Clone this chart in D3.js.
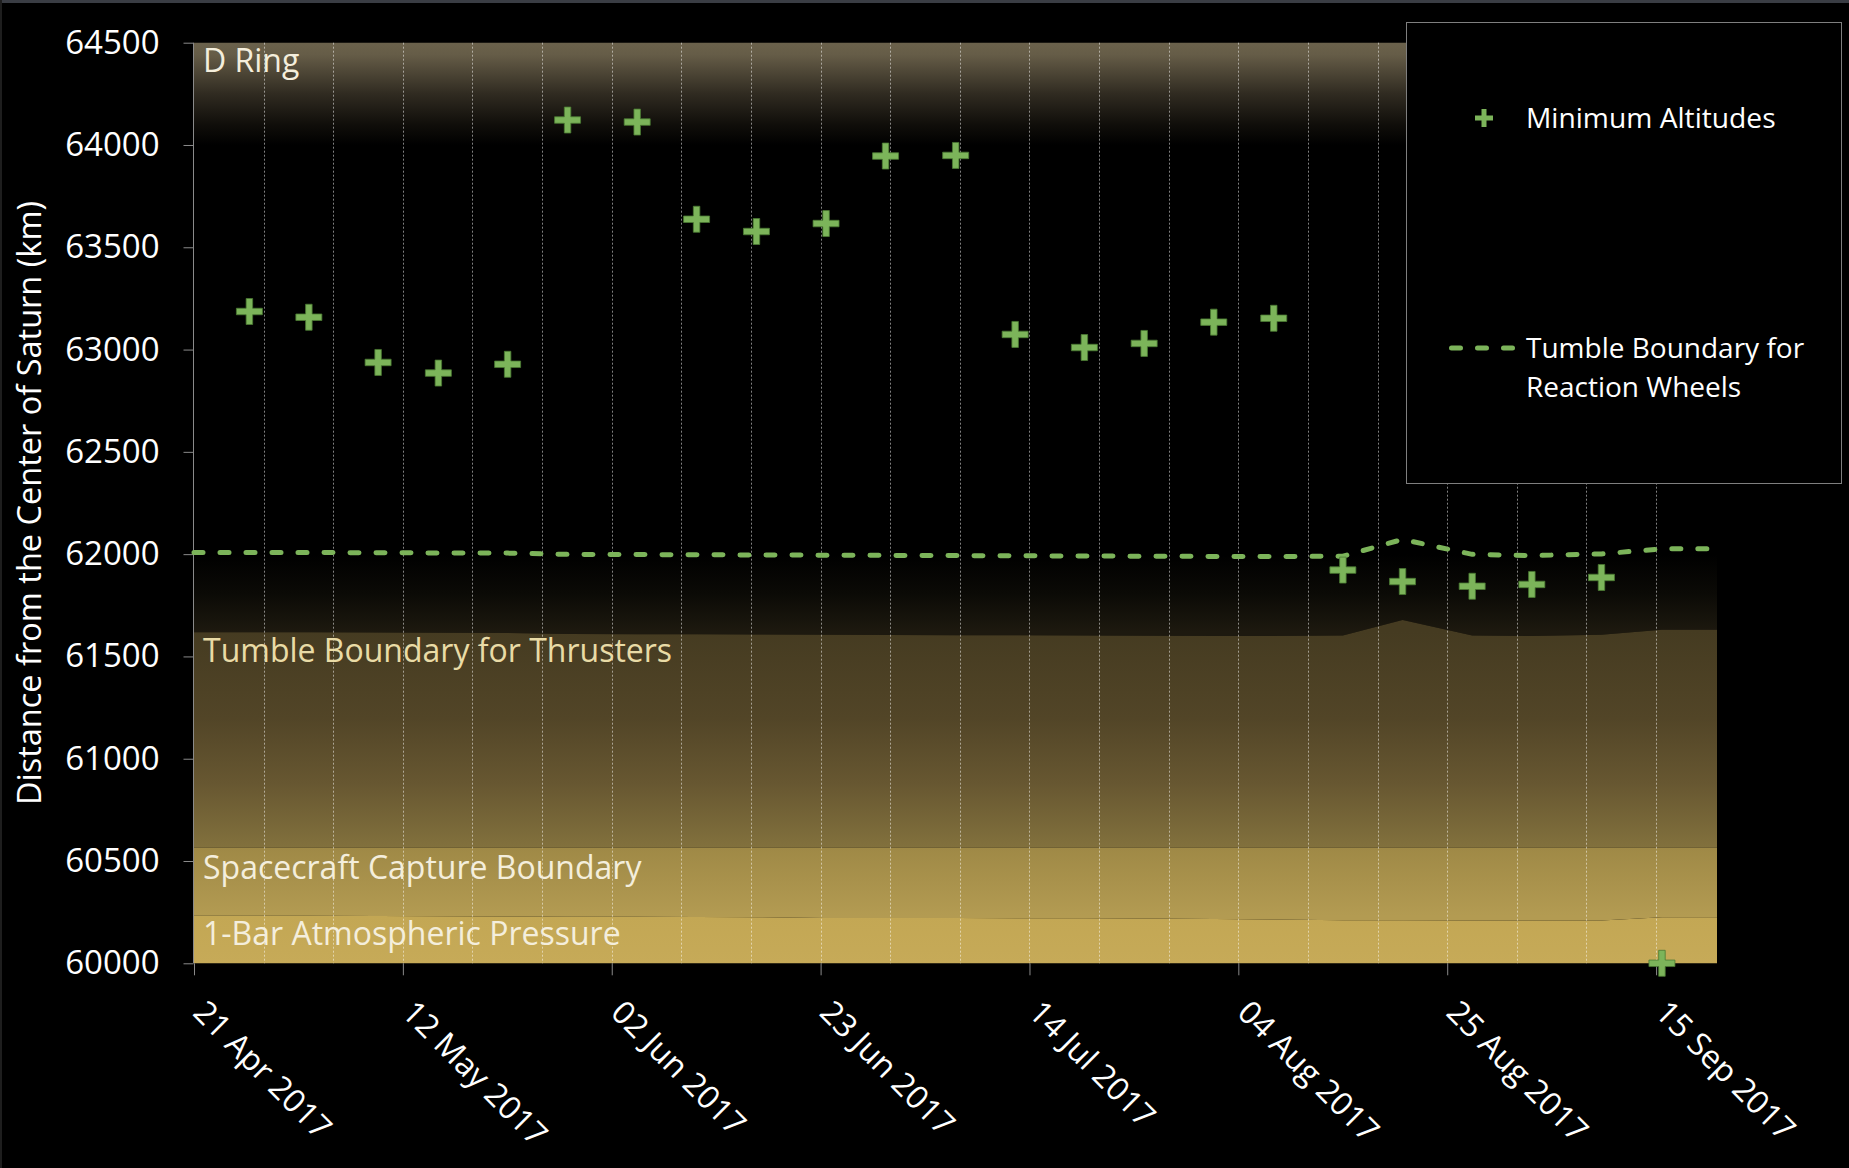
<!DOCTYPE html>
<html><head><meta charset="utf-8">
<script src="https://cdn.jsdelivr.net/npm/d3@7"></script>
<style>
html,body{margin:0;padding:0;background:#000;overflow:hidden}
svg{display:block}
text{font-family:"Open Sans",sans-serif}
</style></head><body>
<svg id="chart" width="1849" height="1168"></svg>
<script>
// ---------- DATA ----------
const periapsisDates = ["2017-04-26T13:40","2017-05-02T13:10","2017-05-09T12:15","2017-05-15T13:40","2017-05-22T12:45","2017-05-28T13:25","2017-06-04T13:25","2017-06-10T12:45","2017-06-16T13:10","2017-06-23T13:10","2017-06-29T12:45","2017-07-06T13:55","2017-07-12T13:25","2017-07-19T12:30","2017-07-25T12:45","2017-08-01T12:45","2017-08-07T13:25","2017-08-14T12:15","2017-08-20T12:15","2017-08-27T12:15","2017-09-02T12:15","2017-09-09T12:15","2017-09-15T14:10"];
const minAltitudes = [63186,63158,62937,62885,62928,64122,64112,63637,63577,63616,63946,63949,63074,63010,63030,63134,63153,61922,61866,61843,61852,61886,60000];

const boundaryDates = ["2017-04-21T00:00","2017-04-26T13:40","2017-05-02T13:10","2017-05-09T12:15","2017-05-15T13:40","2017-05-22T12:45","2017-05-28T13:25","2017-06-04T13:25","2017-06-10T12:45","2017-06-16T13:10","2017-06-23T13:10","2017-06-29T12:45","2017-07-06T13:55","2017-07-12T13:25","2017-07-19T12:30","2017-07-25T12:45","2017-08-01T12:45","2017-08-07T13:25","2017-08-14T12:15","2017-08-20T12:15","2017-08-27T12:15","2017-09-02T12:15","2017-09-09T12:15","2017-09-15T14:10","2017-09-21T03:00"];
const reactionWheelBoundary = [62008,62008,62008,62007,62006,62005,61999,61998,61997,61996,61995,61994,61993,61992,61991,61990,61989,61988,61990,62072,61999,61993,62001,62026,62026];
const thrusterBoundary      = [61618,61618,61618,61617,61616,61615,61610,61609,61608,61607,61606,61605,61604,61603,61602,61601,61600,61600,61602,61678,61602,61600,61606,61630,61630];
const captureBoundary       = [60565,60565,60565,60565,60565,60565,60565,60565,60565,60565,60565,60565,60565,60565,60565,60565,60565,60565,60565,60565,60565,60565,60565,60565,60565];
const oneBarPressure        = [60233,60233,60232,60231,60230,60229,60228,60227,60226,60225,60222,60221,60221,60220,60220,60219,60217,60214,60211,60210,60209,60209,60209,60225,60225];
const dRingBand = [64000, 64500];

const xTickDates = ["2017-04-21","2017-05-12","2017-06-02","2017-06-23","2017-07-14","2017-08-04","2017-08-25","2017-09-15"];
const yTicks = [60000,60500,61000,61500,62000,62500,63000,63500,64000,64500];
const xDomain = ["2017-04-21T00:00","2017-09-21T03:00"];
const yDomain = [60000, 64500];

const bandLabels = [
  {text:"D Ring", value:64500, cls:"light"},
  {text:"Tumble Boundary for Thrusters", value:61618, cls:"yellow"},
  {text:"Spacecraft Capture Boundary", value:60565, cls:"light"},
  {text:"1-Bar Atmospheric Pressure", value:60233, cls:"light"}
];
const legendItems = ["Minimum Altitudes", ["Tumble Boundary for","Reaction Wheels"]];
const yTitle = "Distance from the Center of Saturn (km)";

// ---------- SETUP ----------
const parseT = d3.timeParse("%Y-%m-%dT%H:%M");
const parseD = d3.timeParse("%Y-%m-%d");
const svg = d3.select("#chart");
const W = 1849, H = 1168;
const plot = {left:194, right:1717, top:42.7, bottom:963.3};

const x = d3.scaleTime().domain(xDomain.map(parseT)).range([plot.left, plot.right]);
const y = d3.scaleLinear().domain(yDomain).range([plot.bottom, plot.top]);

svg.append("rect").attr("width",W).attr("height",H).attr("fill","#000");
svg.append("rect").attr("width",W).attr("height",3).attr("fill","#3a3d44");
svg.append("rect").attr("width",2).attr("height",H).attr("fill","#1e1e1e");

const defs = svg.append("defs");
function grad(id, y1, y2, stops){
  const g = defs.append("linearGradient").attr("id",id)
    .attr("gradientUnits","userSpaceOnUse").attr("x1",0).attr("x2",0).attr("y1",y1).attr("y2",y2);
  stops.forEach(s=>g.append("stop").attr("offset",s[0]).attr("stop-color",s[1]));
}
grad("gDring", y(64500), y(64000), [[0,"#6b624c"],[0.12,"#655c47"],[0.5,"#302b21"],[0.8,"#100e0a"],[1,"#000"]]);
grad("gFade", y(62000), y(61620), [[0,"#000"],[0.5,"#0b0a06"],[1,"#1d190f"]]);
grad("gThr", y(61620), y(60565), [[0,"#453b21"],[0.4,"#524527"],[0.7,"#675731"],[1,"#82713d"]]);
grad("gCap", y(60565), y(60233), [[0,"#9f8946"],[1,"#b39b52"]]);
grad("gBar", y(60233), y(60000), [[0,"#c3a754"],[1,"#c6aa58"]]);

const bd = boundaryDates.map(parseT);
const rows = bd.map((d,i)=>({d, rw:reactionWheelBoundary[i], thr:thrusterBoundary[i], cap:captureBoundary[i], bar:oneBarPressure[i]}));

const bands = svg.append("g");
bands.append("path").datum(rows)
  .attr("d", d3.area().x(r=>x(r.d)).y0(()=>y(dRingBand[0])).y1(()=>y(dRingBand[1])))
  .attr("fill","url(#gDring)");
bands.append("path").datum(rows)
  .attr("d", d3.area().x(r=>x(r.d)).y0(r=>y(r.thr)).y1(r=>y(r.rw)))
  .attr("fill","url(#gFade)");
bands.append("path").datum(rows)
  .attr("d", d3.area().x(r=>x(r.d)).y0(r=>y(r.cap)).y1(r=>y(r.thr)))
  .attr("fill","url(#gThr)");
bands.append("path").datum(rows)
  .attr("d", d3.area().x(r=>x(r.d)).y0(r=>y(r.bar)).y1(r=>y(r.cap)))
  .attr("fill","url(#gCap)");
bands.append("path").datum(rows)
  .attr("d", d3.area().x(r=>x(r.d)).y0(()=>y(yDomain[0])).y1(r=>y(r.bar)))
  .attr("fill","url(#gBar)");

// weekly grid lines
const gridDates = d3.timeDay.range(parseD("2017-04-28"), parseD("2017-09-16"), 7);
svg.append("g").selectAll("line").data(gridDates).join("line")
  .attr("x1",d=>Math.round(x(d))+0.5).attr("x2",d=>Math.round(x(d))+0.5)
  .attr("y1",plot.top).attr("y2",plot.bottom)
  .attr("stroke","rgba(255,255,255,0.5)").attr("stroke-width",1).attr("stroke-dasharray","2,2");

// axes
const yAxis = svg.append("g").attr("transform",`translate(${plot.left-0.5},0)`)
  .call(d3.axisLeft(y).tickValues(yTicks).tickFormat(d3.format("d")).tickSize(10).tickPadding(24));
yAxis.select(".domain").attr("stroke","#8a8a8a").attr("d",`M0,${plot.top}V${plot.bottom}`);
yAxis.selectAll(".tick line").attr("stroke","#8a8a8a");
yAxis.selectAll(".tick text").attr("fill","#fff").attr("font-size",33).attr("font-family","Open Sans");

const xAxis = svg.append("g").attr("transform",`translate(0,${plot.bottom})`)
  .call(d3.axisBottom(x).tickValues(xTickDates.map(parseD)).tickFormat(d3.timeFormat("%d %b %Y")).tickSize(12));
xAxis.select(".domain").remove();
xAxis.selectAll(".tick line").attr("stroke","#8a8a8a");
xAxis.selectAll(".tick text").attr("fill","#fff").attr("font-size",32).attr("font-family","Open Sans")
  .attr("text-anchor","start").attr("dy",null).attr("y",null)
  .attr("transform","translate(-3,51) rotate(45)");

// y title
svg.append("text").attr("transform",`translate(41,${(plot.top+plot.bottom)/2}) rotate(-90)`)
  .attr("text-anchor","middle").attr("fill","#fff").attr("font-size",32.5).text(yTitle);

// band labels
const labelOffsets = {"D Ring":29, "Tumble Boundary for Thrusters":30, "Spacecraft Capture Boundary":31, "1-Bar Atmospheric Pressure":29};
svg.append("g").selectAll("text").data(bandLabels).join("text")
  .attr("x",203).attr("y",d=>y(d.value)+labelOffsets[d.text])
  .attr("fill",d=>d.cls==="yellow"?"#e9dba6":"#f4eedc")
  .attr("font-size",32).text(d=>d.text);

// dashed reaction wheel boundary
svg.append("path").datum(rows)
  .attr("d", d3.line().x(r=>x(r.d)).y(r=>y(r.rw)))
  .attr("fill","none").attr("stroke","#7cb45a").attr("stroke-width",5)
  .attr("stroke-linecap","round").attr("stroke-dasharray","9,17");

// plus markers
function plusPath(s, t){
  const a=s/2, b=t/2;
  return `M${-b},${-a}H${b}V${-b}H${a}V${b}H${b}V${a}H${-b}V${b}H${-a}V${-b}H${-b}Z`;
}
svg.append("g").selectAll("path").data(periapsisDates.map((d,i)=>({d:parseT(d), v:minAltitudes[i]}))).join("path")
  .attr("transform",p=>`translate(${x(p.d)},${y(p.v)})`)
  .attr("d",plusPath(26,6.5)).attr("fill","#7cb45a").attr("stroke","#4a7a32").attr("stroke-width",0.8);

// legend
const lg = svg.append("g");
lg.append("rect").attr("x",1406.5).attr("y",22.5).attr("width",435).attr("height",461)
  .attr("fill","#000").attr("stroke","#7f7f7f").attr("stroke-width",1);
lg.append("path").attr("transform","translate(1484,118)").attr("d",plusPath(18,5)).attr("fill","#7cb45a");
lg.append("text").attr("x",1526).attr("y",128).attr("fill","#fff").attr("font-size",28.2).text(legendItems[0]);
lg.append("line").attr("x1",1451.5).attr("x2",1517).attr("y1",348).attr("y2",348)
  .attr("stroke","#7cb45a").attr("stroke-width",5).attr("stroke-linecap","round").attr("stroke-dasharray","9,17");
lg.append("text").attr("x",1526).attr("y",358).attr("fill","#fff").attr("font-size",28).text(legendItems[1][0]);
lg.append("text").attr("x",1526).attr("y",397).attr("fill","#fff").attr("font-size",28).text(legendItems[1][1]);
</script>
</body></html>
